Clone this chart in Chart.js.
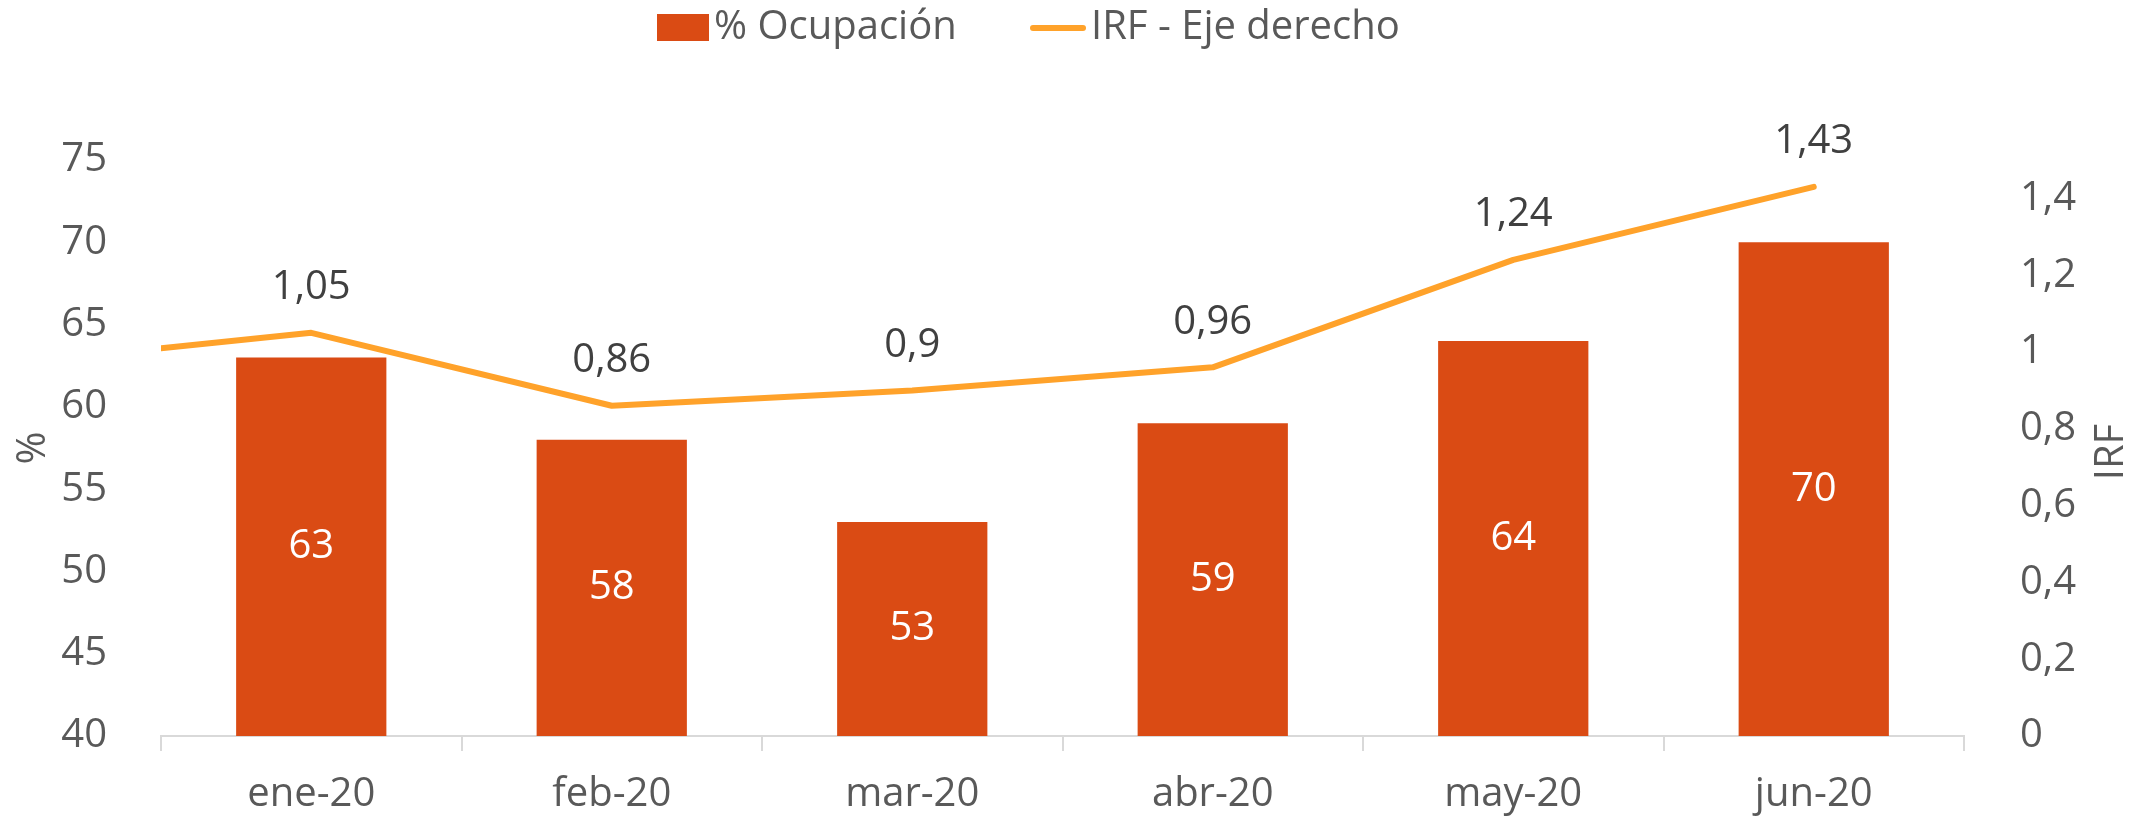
<!DOCTYPE html>
<html lang="es">
<head>
<meta charset="utf-8">
<script src="https://cdn.jsdelivr.net/npm/chart.js@4.4.0/dist/chart.umd.min.js"></script>
<title>Ocupación e IRF</title>
<style>
  html, body { margin: 0; padding: 0; background: #fff; }
  canvas { display: block; }
</style>
</head>
<body>
<canvas id="myChart" width="2151" height="821"></canvas>
<script>
// datos
var categorias = ['ene-20', 'feb-20', 'mar-20', 'abr-20', 'may-20', 'jun-20'];
var ocupacion = [63, 58, 53, 59, 64, 70];
var irf = [1.05, 0.86, 0.9, 0.96, 1.24, 1.43];
var irfInicio = 1.01; // la linea entra por el borde izquierdo

var ticksIzq = [40, 45, 50, 55, 60, 65, 70, 75];
var ticksDer = [0, 0.2, 0.4, 0.6, 0.8, 1, 1.2, 1.4];

var colorBarra = '#DA4B14';
var colorLinea = '#FFA22A';
var gris = '#595959';
var fuente = "'Open Sans', sans-serif";

var coma = function (v) {
    return String(Math.round(v * 100) / 100).replace('.', ',');
};

var puntosLinea = [{x: -0.5, y: irfInicio}].concat(irf.map(function (v, i) {
    return {x: i, y: v};
}));

var extras = {
    id: 'extras',
    afterDatasetsDraw: function (chart) {
        var ctx = chart.ctx;
        var fondo = chart.scales.y.bottom;
        ctx.save();
        ctx.font = '40px ' + fuente;
        ctx.textAlign = 'center';
        ctx.textBaseline = 'middle';

        // etiquetas de las barras (el eje empieza en 40, la barra se corta ahi)
        var barras = chart.getDatasetMeta(1);
        barras.data.forEach(function (b, i) {
            ctx.fillStyle = '#ffffff';
            ctx.fillText(ocupacion[i], b.x, (b.y + Math.min(b.base, fondo)) / 2);
        });

        // etiquetas de la linea
        var linea = chart.getDatasetMeta(0);
        linea.data.forEach(function (p, i) {
            if (i === 0) return;
            ctx.fillStyle = '#404040';
            ctx.fillText(coma(irf[i - 1]), p.x, p.y - 45);
        });

        // titulos de los ejes
        ctx.fillStyle = gris;
        ctx.save();
        ctx.translate(34, 448);
        ctx.rotate(-Math.PI / 2);
        ctx.fillText('%', 0, 0);
        ctx.restore();
        ctx.save();
        ctx.translate(2112, 452);
        ctx.rotate(-Math.PI / 2);
        ctx.fillText('IRF', 0, 0);
        ctx.restore();

        // leyenda
        ctx.textAlign = 'left';
        ctx.fillStyle = colorBarra;
        ctx.fillRect(657, 14, 52, 27);
        ctx.fillStyle = gris;
        ctx.fillText('% Ocupación', 714, 28);
        ctx.strokeStyle = colorLinea;
        ctx.lineWidth = 6;
        ctx.lineCap = 'round';
        ctx.beginPath();
        ctx.moveTo(1033, 28);
        ctx.lineTo(1083, 28);
        ctx.stroke();
        ctx.fillText('IRF - Eje derecho', 1091, 28);
        ctx.restore();
    }
};

var ctx = document.getElementById('myChart').getContext('2d');
var myChart = new Chart(ctx, {
    type: 'bar',
    data: {
        labels: categorias,
        datasets: [{
            type: 'line',
            label: 'IRF - Eje derecho',
            data: puntosLinea,
            xAxisID: 'x2',
            yAxisID: 'y2',
            borderColor: colorLinea,
            borderWidth: 6,
            borderCapStyle: 'round',
            borderJoinStyle: 'round',
            pointRadius: 0,
            tension: 0,
            fill: false,
            grouped: false,
            order: 0
        }, {
            label: '% Ocupación',
            data: ocupacion,
            xAxisID: 'x',
            yAxisID: 'y',
            backgroundColor: colorBarra,
            barPercentage: 0.5,
            categoryPercentage: 1.0,
            grouped: false,
            order: 1
        }]
    },
    options: {
        responsive: false,
        animation: false,
        layout: {padding: {top: 160, left: 0, right: 0, bottom: 0}},
        plugins: {
            legend: {display: false},
            tooltip: {enabled: false}
        },
        scales: {
            x: {
                type: 'category',
                offset: true,
                grid: {
                    display: true,
                    drawOnChartArea: false,
                    offset: true,
                    tickLength: 15,
                    color: '#d9d9d9',
                    lineWidth: 2
                },
                border: {color: '#d9d9d9', width: 2},
                ticks: {font: {family: fuente, size: 40}, color: gris, padding: 20, maxRotation: 0},
                afterFit: function (s) { s.height = 85; }
            },
            x2: {
                type: 'linear',
                display: false,
                offset: false,
                grid: {offset: false},
                min: -0.5,
                max: 5.5
            },
            y: {
                position: 'left',
                min: 40,
                max: 75,
                afterBuildTicks: function (s) { s.ticks = ticksIzq.map(function (v) { return {value: v}; }); },
                grid: {display: false},
                border: {display: false},
                ticks: {font: {family: fuente, size: 40}, color: gris, padding: 46},
                afterFit: function (s) { s.width = 161; }
            },
            y2: {
                position: 'right',
                min: 0,
                max: 1.5,
                afterBuildTicks: function (s) { s.ticks = ticksDer.map(function (v) { return {value: v}; }); },
                grid: {display: false},
                border: {display: false},
                ticks: {
                    font: {family: fuente, size: 40},
                    color: gris,
                    padding: 48,
                    callback: function (v) { return coma(v); }
                },
                afterFit: function (s) { s.width = 187; }
            }
        }
    },
    plugins: [extras]
});
</script>
</body>
</html>
